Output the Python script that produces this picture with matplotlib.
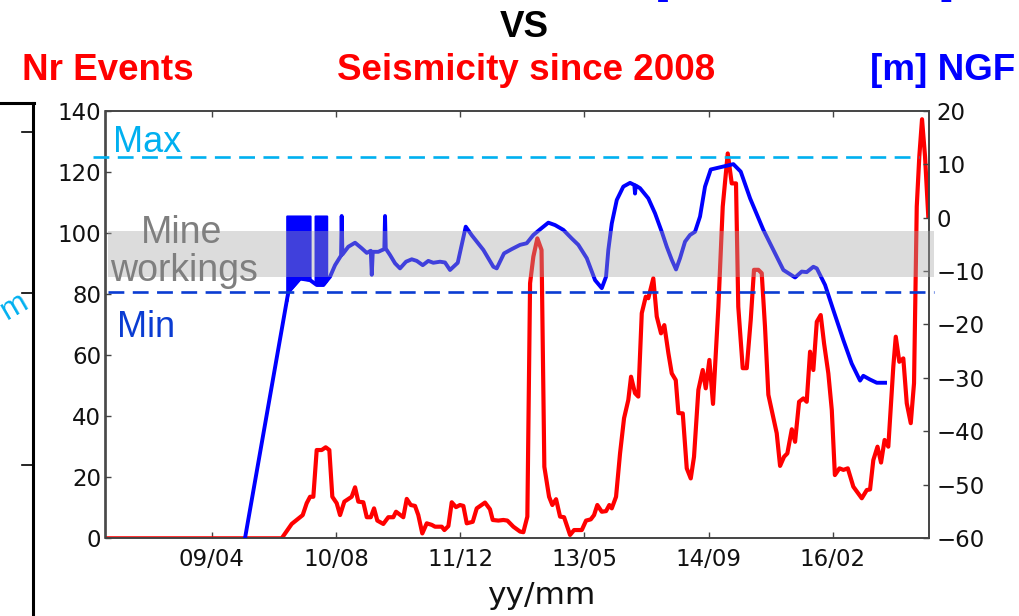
"""
plot.py - Mine water level vs seismicity since 2008.

Red curve  : number of seismic events (left axis)
Blue curve : water level in [m] NGF (right axis)
"""

import numpy as np
import matplotlib
matplotlib.use("Agg")
import matplotlib.pyplot as plt
from matplotlib.lines import Line2D

# ---------------------------------------------------------------------------
# Data (x in decimal years)
# ---------------------------------------------------------------------------

events_x = [
    2008.097, 2010.030, 2010.140, 2010.261, 2010.305, 2010.342, 2010.378,
    2010.415, 2010.470, 2010.514, 2010.554, 2010.587, 2010.635, 2010.672,
    2010.719, 2010.800, 2010.837, 2010.873, 2010.928, 2010.966, 2011.010,
    2011.046, 2011.082, 2011.148, 2011.203, 2011.258, 2011.288, 2011.368,
    2011.406, 2011.450, 2011.497, 2011.533, 2011.577, 2011.626, 2011.681,
    2011.717, 2011.791, 2011.820, 2011.864, 2011.901, 2011.948, 2011.992,
    2012.029, 2012.066, 2012.132, 2012.176, 2012.267, 2012.322, 2012.352,
    2012.414, 2012.469, 2012.513, 2012.579, 2012.653, 2012.689, 2012.733,
    2012.763, 2012.799, 2012.843, 2012.889, 2012.920, 2012.972, 2013.008,
    2013.049, 2013.093, 2013.137, 2013.203, 2013.247, 2013.332, 2013.379,
    2013.431, 2013.467, 2013.503, 2013.552, 2013.599, 2013.635, 2013.662,
    2013.709, 2013.753, 2013.797, 2013.844, 2013.874, 2013.918, 2013.954,
    2013.992, 2014.036, 2014.064, 2014.119, 2014.157, 2014.204, 2014.240,
    2014.285, 2014.322, 2014.366, 2014.395, 2014.443, 2014.487, 2014.531,
    2014.567, 2014.615, 2014.663, 2014.696, 2014.736, 2014.776, 2014.835,
    2014.883, 2014.938, 2014.982, 2015.029, 2015.054, 2015.103, 2015.147,
    2015.191, 2015.227, 2015.275, 2015.312, 2015.348, 2015.385, 2015.477,
    2015.514, 2015.558, 2015.594, 2015.643, 2015.679, 2015.723, 2015.770,
    2015.807, 2015.844, 2015.880, 2015.918, 2015.961, 2015.998, 2016.045,
    2016.083, 2016.117, 2016.167, 2016.211, 2016.259, 2016.320, 2016.413,
    2016.468, 2016.504, 2016.540, 2016.586, 2016.625, 2016.664, 2016.705,
    2016.760, 2016.787, 2016.826, 2016.870, 2016.908, 2016.952, 2016.988,
    2017.018, 2017.046, 2017.076, 2017.109, 2017.145,
]
events_n = [
    0, 0, 4.7, 7.6, 11.5, 13.6, 13.6,
    28.9, 28.9, 29.8, 28.9, 13.6, 11.5, 7.6,
    12.0, 13.6, 16.7, 12.0, 11.8, 6.9, 6.9,
    9.8, 5.8, 4.7, 6.9, 6.9, 8.7, 6.9,
    12.9, 10.9, 10.6, 7.6, 1.6, 4.9, 4.4,
    3.8, 3.8, 2.7, 4.0, 11.8, 10.2, 10.9,
    10.6, 4.9, 5.4, 9.8, 11.7, 9.5, 6.0,
    5.8, 6.0, 5.8, 3.8, 2.2, 2.0, 7.1,
    83.5, 92.2, 98.2, 94.4, 23.4, 13.6, 10.9,
    12.8, 7.1, 6.9, 1.1, 2.7, 2.7, 5.8,
    6.2, 7.6, 10.9, 8.7, 8.9, 10.9, 9.8,
    13.6, 27.8, 39.3, 45.3, 52.9, 47.5, 46.4,
    73.7, 79.1, 78.6, 85.1, 72.6, 67.1, 69.8,
    60.6, 54.0, 51.8, 41.0, 40.9, 22.9, 19.6,
    26.7, 48.6, 55.1, 49.1, 58.4, 44.0, 75.8,
    108.6, 126.0, 116.2, 116.2, 75.8, 55.7, 55.7,
    71.5, 87.9, 87.9, 86.8, 69.3, 47.0, 34.4,
    23.7, 26.7, 27.8, 35.7, 31.6, 44.7, 45.8,
    44.7, 61.1, 55.1, 70.9, 73.1, 63.8, 54.0,
    42.0, 20.7, 22.9, 22.4, 22.9, 16.9, 13.1,
    15.8, 16.0, 25.6, 30.0, 24.8, 32.2, 30.0,
    56.2, 66.0, 57.8, 58.9, 44.2, 37.7, 50.8,
    108.6, 125.0, 137.2, 125.0, 105.3,
]

level_x = [
    2009.626, 2010.103, 2010.232, 2010.342, 2010.415, 2010.488, 2010.562,
    2010.617, 2010.683, 2010.690, 2010.698, 2010.763, 2010.837, 2010.911,
    2010.966, 2011.010, 2011.021, 2011.032, 2011.093, 2011.131, 2011.159,
    2011.167, 2011.175, 2011.222, 2011.277, 2011.332, 2011.398, 2011.461,
    2011.516, 2011.582, 2011.643, 2011.698, 2011.772, 2011.827, 2011.882,
    2011.967, 2012.055, 2012.121, 2012.249, 2012.359, 2012.396, 2012.476,
    2012.561, 2012.653, 2012.726, 2012.799, 2012.873, 2012.964, 2013.038,
    2013.129, 2013.221, 2013.294, 2013.387, 2013.478, 2013.552, 2013.599,
    2013.624, 2013.662, 2013.717, 2013.789, 2013.863, 2013.910, 2013.918,
    2013.926, 2013.973, 2014.064, 2014.138, 2014.212, 2014.267, 2014.322,
    2014.369, 2014.413, 2014.468, 2014.523, 2014.578, 2014.633, 2014.688,
    2014.751, 2015.000, 2015.081, 2015.184, 2015.330, 2015.459, 2015.550,
    2015.679, 2015.752, 2015.807, 2015.880, 2015.918, 2016.009, 2016.100,
    2016.210, 2016.302, 2016.394, 2016.430, 2016.504, 2016.578, 2016.669,
]
level_m = [
    -60.0, -13.9, -11.4, -11.7, -12.6, -12.6, -11.05,
    -8.9, -7.1, 0.3, -6.9, -5.45, -4.7, -5.75,
    -6.6, -6.2, -10.7, -6.4, -6.4, -6.1, -5.9,
    0.3, -5.8, -7.0, -8.55, -9.5, -8.25, -7.8,
    -8.1, -8.9, -8.1, -8.45, -8.25, -8.4, -9.8,
    -8.45, -1.7, -3.3, -6.05, -9.2, -9.5, -6.7,
    -5.9, -5.1, -4.8, -3.25, -2.2, -0.95, -1.4,
    -2.3, -3.9, -5.1, -7.6, -11.7, -13.2, -11.05,
    -6.05, -1.1, 3.3, 5.8, 6.5, 6.1, 4.5,
    6.0, 5.5, 3.6, 0.8, -2.65, -5.45, -7.9,
    -9.7, -7.6, -4.5, -3.25, -2.65, 0.2, 5.8,
    9.0, 10.0, 8.6, 3.6, -2.3, -6.7, -9.8,
    -11.2, -10.1, -10.2, -9.2, -9.5, -12.6, -17.3,
    -22.9, -27.3, -30.5, -29.6, -30.3, -30.9, -30.9,
]

# periods of very dense spiky readings (drawn as solid blocks)
burst_spans = [(2010.085, 2010.342), (2010.397, 2010.525)]
burst_top = 0.3

# reference levels [m NGF]
level_max = 11.4
level_min = -14.0
workings_band = (-11.1, -2.5)

tick_dates = [2009.260, 2010.627, 2011.993, 2013.360, 2014.727, 2016.093]
tick_labels = ["09/04", "10/08", "11/12", "13/05", "14/09", "16/02"]

RED = "#ff0000"
BLUE = "#0000ff"
CYAN = "#00b0f0"
DARK_BLUE = "#0a3cd2"
W, H = 1020, 616


def px(x):
    return x / W


def py(y):
    return 1 - y / H


# ---------------------------------------------------------------------------
# Figure
# ---------------------------------------------------------------------------

plt.rcParams["font.family"] = ["DejaVu Sans"]
fig = plt.figure(figsize=(W / 100, H / 100), dpi=100)
ax1 = fig.add_axes([px(105.5), py(538.3), px(929.3) - px(105.5), py(110.7) - py(538.3)])
ax2 = ax1.twinx()

ax1.plot(events_x, events_n, color=RED, lw=3.0, solid_joinstyle="round")
ax2.plot(level_x, level_m, color=BLUE, lw=2.8, zorder=3, solid_joinstyle="round")

for start, end in burst_spans:
    xs = np.linspace(start, end, 60)
    lo = np.interp(xs, level_x, level_m)
    ax2.fill_between(xs, lo, burst_top, color=BLUE, lw=1.5, edgecolor=BLUE, zorder=3)

# mine workings band (semi transparent, over the curves)
ax2.axhspan(*workings_band, xmin=0.003, xmax=1.0057, color=(0.65, 0.65, 0.65),
            alpha=0.39, lw=0, zorder=4, clip_on=False)
ax2.axhline(level_max, xmin=-0.0152, xmax=0.9875, color=CYAN, lw=1.9,
            dashes=(6, 3.2), zorder=5, clip_on=False)
ax2.axhline(level_min, xmin=0.003, xmax=1.0057, color=DARK_BLUE, lw=1.9,
            dashes=(6, 3.2), zorder=5, clip_on=False)

ax1.set_xlim(2008.091, 2017.156)
ax1.set_ylim(0, 140)
ax2.set_ylim(-60, 20)
ax1.set_xticks(tick_dates)
ax1.set_xticklabels(tick_labels)
ax1.set_yticks(range(0, 141, 20))
ax2.set_yticks(range(-60, 21, 10))

ax1.tick_params(axis="both", direction="in", length=4, width=1, color="#444444",
                labelsize=16.5, labelcolor="#111111", top=True, right=False)
ax1.tick_params(axis="x", pad=7)
ax1.tick_params(axis="y", pad=3)
ax2.tick_params(axis="y", direction="in", length=4, width=1, color="#444444",
                labelsize=16.5, labelcolor="#111111", pad=5)
for ax in (ax1, ax2):
    for s in ax.spines.values():
        s.set_color("#444444")
        s.set_linewidth(1.2)

# ---------------------------------------------------------------------------
# Annotations
# ---------------------------------------------------------------------------

bold = dict(family=["Liberation Sans", "DejaVu Sans"], weight="bold", fontsize=26.5)
fig.text(px(524), py(37), "VS", ha="center", va="baseline", color="black", **bold)
fig.text(px(22), py(80), "Nr Events", ha="left", va="baseline", color=RED, **bold)
fig.text(px(526), py(80), "Seismicity since 2008", ha="center", va="baseline",
         color=RED, **bold)
fig.text(px(1015), py(80), "[m] NGF", ha="right", va="baseline", color=BLUE, **bold)
# cut-off line of the slide above (only the bracket feet remain visible)
fig.text(px(662), py(-6), "[", ha="center", va="baseline", color=BLUE, **bold)
fig.text(px(947), py(-6), "]", ha="center", va="baseline", color=BLUE, **bold)

reg = dict(family=["Liberation Sans", "DejaVu Sans"], fontsize=26)
fig.text(px(113), py(152), "Max", ha="left", va="baseline", color=CYAN, zorder=6, **reg)
fig.text(px(117), py(337), "Min", ha="left", va="baseline", color=DARK_BLUE, zorder=6, **reg)
fig.text(px(182), py(243), "Mine", ha="center", va="baseline", color="#7f7f7f",
         zorder=6, family=["Liberation Sans", "DejaVu Sans"], fontsize=27)
fig.text(px(184), py(281), "workings", ha="center", va="baseline", color="#7f7f7f",
         zorder=6, family=["Liberation Sans", "DejaVu Sans"], fontsize=27)

fig.text(px(541), py(604), "yy/mm", ha="center", va="baseline", fontsize=22.5,
         color="#111111")

# fragment of the neighbouring map panel on the left
frame = dict(color="black", lw=2.2, transform=fig.transFigure)
fig.add_artist(Line2D([px(33.3), px(33.3)], [py(103), 0], **frame))
fig.add_artist(Line2D([0, px(34.4)], [py(103), py(103)], **frame))
for ty in (131.7, 292.7, 465):
    fig.add_artist(Line2D([px(22), px(33)], [py(ty), py(ty)], color="black",
                          lw=1.2, transform=fig.transFigure))
fig.text(px(14), py(306), "m", ha="center", va="center", rotation=30, color=CYAN,
         family=["Liberation Sans", "DejaVu Sans"], fontsize=23)

fig.savefig("out.png", dpi=100)
